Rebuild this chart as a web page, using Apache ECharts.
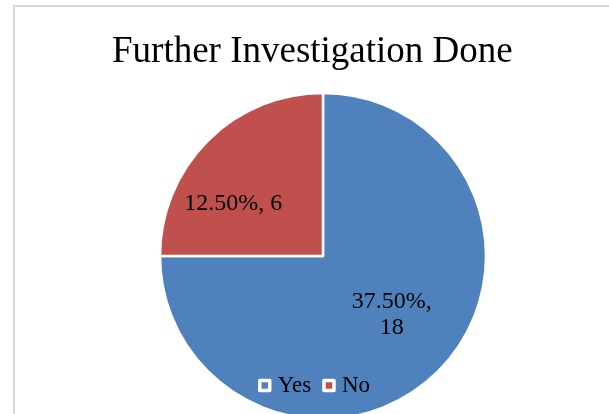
<!DOCTYPE html>
<html>
<head>
<meta charset="utf-8">
<script src="https://cdn.jsdelivr.net/npm/echarts@6/dist/echarts.min.js"></script>
<style>
html,body{margin:0;padding:0;background:#fff;}
#frame{position:absolute;left:13px;top:5px;width:620px;height:430px;border-left:2px solid #d9d9d9;border-top:2px solid #d9d9d9;box-sizing:border-box;}
#chart{position:absolute;left:0;top:0;width:609px;height:414px;}
</style>
</head>
<body>
<div id="frame"></div>
<div id="chart"></div>
<script>
const titleText = 'Further Investigation Done';
const categories = ['Yes', 'No'];
const values = [18, 6];
const percentLabels = ['37.50%', '12.50%'];
const colors = ['#4F81BD', '#C0504D'];

const chart = echarts.init(document.getElementById('chart'), null, {renderer: 'canvas'});
const serif = '"Liberation Serif", "Times New Roman", serif';

chart.setOption({
  backgroundColor: 'transparent',
  animation: false,
  color: colors,
  title: {
    text: titleText,
    left: 112,
    top: 34,
    padding: 0,
    textStyle: {fontFamily: serif, fontSize: 37, fontWeight: 'normal', color: '#000'}
  },
  legend: {
    data: categories,
    left: 258,
    top: 374,
    padding: 0,
    itemWidth: 10,
    itemHeight: 10,
    itemGap: 11,
    icon: 'rect',
    itemStyle: {borderColor: '#fff', borderWidth: 3.5},
    textStyle: {fontFamily: serif, fontSize: 23, color: '#000', padding: [0, 0, 0, 3]}
  },
  series: [{
    type: 'pie',
    center: [323, 256],
    radius: [0, 163],
    startAngle: 90,
    clockwise: true,
    avoidLabelOverlap: false,
    data: categories.map((c, i) => ({name: c, value: values[i]})),
    itemStyle: {borderColor: '#fff', borderWidth: 2.5},
    label: {
      show: true,
      position: 'inside',
      fontFamily: serif,
      fontSize: 24,
      lineHeight: 26,
      color: '#000',
      formatter: p => percentLabels[p.dataIndex] + (p.dataIndex === 0 ? ',\n' : ', ') + p.value
    },
    labelLayout: p => (p.dataIndex === 0 ? {dx: 9, dy: -1} : {dx: -30, dy: 7}),
    labelLine: {show: false},
    emphasis: {disabled: true}
  }]
});
</script>
</body>
</html>
